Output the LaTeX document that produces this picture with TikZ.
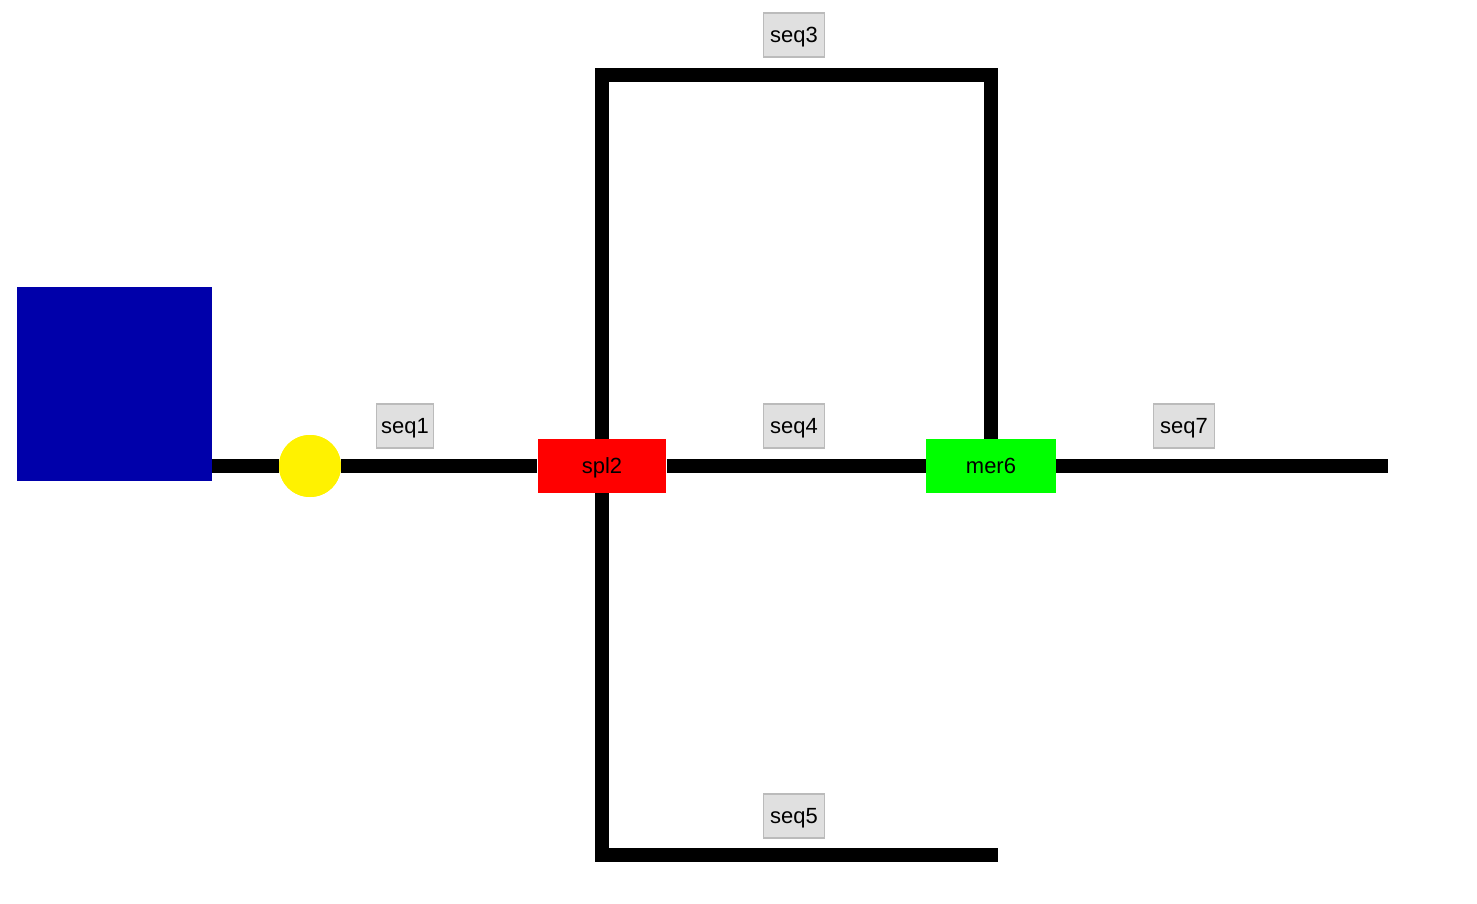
\documentclass[tikz,border=0pt]{standalone}
\usepackage{fontspec}
\setmainfont{Liberation Sans}
\usetikzlibrary{positioning}

\definecolor{tankblue}{HTML}{0000AA}
\definecolor{labelgray}{HTML}{E0E0E0}
\definecolor{labelline}{HTML}{BBBBBB}

\begin{document}
\begin{tikzpicture}[x=0.02cm,y=-0.02cm,
	pipe_line/.style={line width=7.5pt,black,line join=miter},
	tank_node/.style={rectangle,fill=tankblue,minimum width=3.9cm,minimum height=3.88cm,inner sep=0pt},
	valve_node/.style={circle,fill=yellow,minimum size=1.24cm,inner sep=0pt},
	unit_node/.style={rectangle,minimum width=2.58cm,minimum height=1.08cm,inner sep=0pt,text height=0.95em,text depth=0.1em,font=\fontsize{12.5}{14}\selectfont},
	seq_node/.style={rectangle,fill=labelgray,draw=labelline,line width=0.6pt,minimum width=1.14cm,minimum height=0.88cm,inner sep=1pt,text height=0.95em,text depth=0.1em,font=\fontsize{12.5}{14}\selectfont}]

		\useasboundingbox (0,0) rectangle (1477,903);

		\node[tank_node] (tank) at (114.5,384) {};
		\node[valve_node] (valve) at (310,466) {};
		\node[unit_node,fill=red] (spl2) at (602,466) {spl2};
		\node[unit_node,fill=green,minimum width=2.6cm] (mer6) at (991,466) {mer6};

		\coordinate (c3a) at (602,75);
		\coordinate (c3b) at (991,75);
		\coordinate (c5a) at (602,855);
		\coordinate (c5b) at (998,855);
		\coordinate (out) at (1388,466);

		\draw[pipe_line] (tank.east |- valve) -- (valve);
		\draw[pipe_line] (valve) -- (spl2);
		\draw[pipe_line] (spl2.north) -- (c3a) -- (c3b) -- (mer6.north);
		\draw[pipe_line] (spl2) -- (mer6);
		\draw[pipe_line] (spl2.south) -- (c5a) -- (c5b);
		\draw[pipe_line] (mer6) -- (out);

		\node[valve_node] at (valve) {};
		\node[unit_node,fill=red] at (spl2) {spl2};
		\node[unit_node,fill=green,minimum width=2.6cm] at (mer6) {mer6};

		\node[seq_node] (seq1) at (405,426) {seq1};
		\node[seq_node,minimum width=1.22cm] (seq3) at (794,35) {seq3};
		\node[seq_node,minimum width=1.22cm] (seq4) at (794,426) {seq4};
		\node[seq_node,minimum width=1.22cm] (seq5) at (794,816) {seq5};
		\node[seq_node,minimum width=1.22cm] (seq7) at (1184,426) {seq7};
		\end{tikzpicture}
\end{document}
